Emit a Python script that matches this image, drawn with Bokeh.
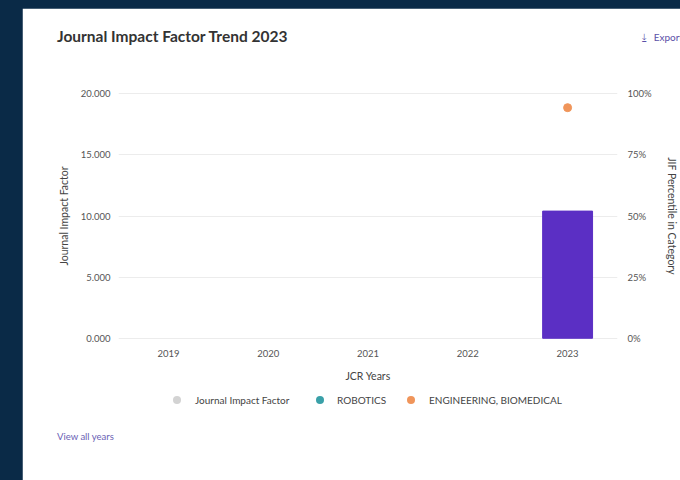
from bokeh.plotting import figure
from bokeh.models import (FactorRange, Range1d, LinearAxis, FixedTicker, NumeralTickFormatter,
                          PrintfTickFormatter, Div)
from bokeh.layouts import column
from bokeh.embed import file_html
from bokeh.resources import INLINE

# ---- data ----
years = ["2019", "2020", "2021", "2022", "2023"]
jif_years = ["2023"]
jif_values = [10.4]
robotics_years = []
robotics_pct = []
biomed_years = ["2023"]
biomed_pct = [94.3]
left_ticks = [0, 5, 10, 15, 20]
right_ticks = [0, 25, 50, 75, 100]
legend_labels = ["Journal Impact Factor", "ROBOTICS", "ENGINEERING, BIOMEDICAL"]
legend_colors = ["#d3d3d3", "#3aa0a8", "#f0955a"]

FONT = "Lato"
NAVY = "#0a2a47"

p = figure(width=658, height=472, x_range=FactorRange(*years, range_padding=0),
           y_range=Range1d(-0.1, 20.1), output_backend="svg", toolbar_location=None,
           min_border_left=96, min_border_right=62, min_border_top=84, min_border_bottom=141,
           background_fill_color="white", border_fill_color="white")
p.outline_line_color = "white"
p.outline_line_width = 2
p.margin = (8, 0, 0, 22)
p.extra_y_ranges = {"pct": Range1d(-0.5, 100.5)}

p.vbar(x=jif_years, top=jif_values, bottom=0, width=0.5, color="#5b2fc4")
p.scatter(x=robotics_years, y=robotics_pct, size=8, color=legend_colors[1], y_range_name="pct")
p.scatter(x=biomed_years, y=biomed_pct, size=8, color=legend_colors[2], y_range_name="pct")

# axes
p.yaxis.ticker = FixedTicker(ticks=left_ticks)
p.yaxis.formatter = NumeralTickFormatter(format="0.000")
p.yaxis.axis_label = "Journal Impact Factor"
right = LinearAxis(y_range_name="pct", ticker=FixedTicker(ticks=right_ticks),
                   formatter=PrintfTickFormatter(format="%d%%"),
                   axis_label="JIF Percentile in Category")
p.add_layout(right, "right")
p.xaxis.axis_label = "JCR Years"

for ax in [p.yaxis[0], right, p.xaxis[0]]:
    ax.axis_line_color = None
    ax.major_tick_line_color = None
    ax.minor_tick_line_color = None
    ax.major_tick_out = 0
    ax.major_tick_in = 0
    ax.major_label_text_font = FONT
    ax.major_label_text_font_size = "9.5px"
    ax.major_label_text_color = "#555555"
    ax.axis_label_text_font = FONT
    ax.axis_label_text_font_size = "10.5px"
    ax.axis_label_text_font_style = "normal"
    ax.axis_label_text_color = "#444444"
p.yaxis[0].major_label_standoff = 8
p.yaxis[0].axis_label_standoff = 8
right.major_label_standoff = 10
right.axis_label_standoff = 11
p.xaxis[0].major_label_standoff = 10
p.xaxis[0].axis_label_standoff = 10

p.xgrid.grid_line_color = None
p.ygrid.grid_line_color = "#ececec"
p.ygrid.ticker = FixedTicker(ticks=left_ticks)

# ---- texts outside the plot frame (HTML overlays positioned on the card) ----
def abs_div(html, left, top, **css):
    st = {"position": "absolute", "left": f"{left}px", "top": f"{top}px",
          "font-family": FONT, "white-space": "nowrap"}
    st.update(css)
    return Div(text=html, styles=st)

title = abs_div("Journal Impact Factor Trend 2023", 52, 20, **{"font-size": "15.5px",
                "font-weight": "bold", "color": "#333333"})
export = abs_div("<span style='font-family:DejaVu Sans'>&#x2913;</span>&nbsp;&nbsp;&nbsp;Export",
                 637, 25, **{"font-size": "10px", "color": "#5a4fa8"})
view_all = abs_div("View all years", 52, 425, **{"font-size": "9.5px", "color": "#6a5fb5"})

dot_cx = [172, 315, 406]
text_x = [190, 332, 424]
parts = []
for lab, col, cx, tx in zip(legend_labels, legend_colors, dot_cx, text_x):
    parts.append(f"<span style='position:absolute;left:{cx - 4}px;top:391px;width:8px;height:8px;"
                 f"border-radius:50%;background:{col}'></span>")
    parts.append(f"<span style='position:absolute;left:{tx}px;top:388px;font-size:10px;"
                 f"line-height:14px;color:#444444'>{lab}</span>")
legend = abs_div("".join(parts), 0, 0, **{"width": "680px", "height": "480px"})

layout = column(p, title, export, view_all, legend, width=680, height=480,
                styles={"background-color": NAVY, "position": "relative"})
open("out.html", "w").write(file_html(layout, INLINE))
